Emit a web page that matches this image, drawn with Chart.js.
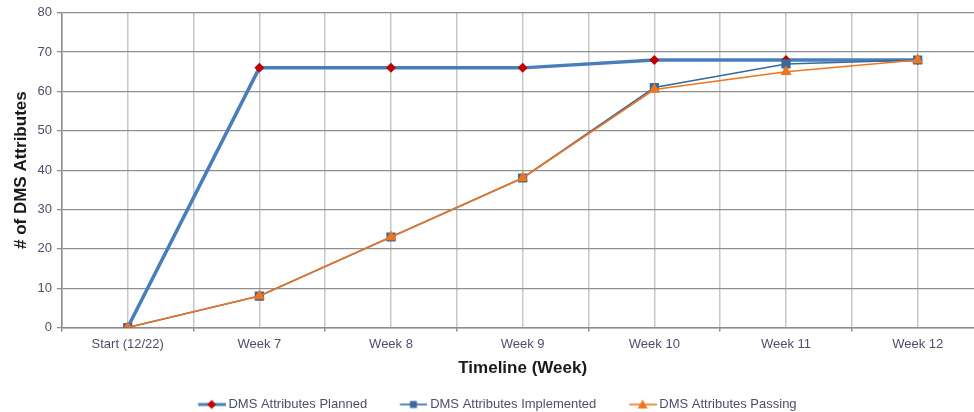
<!DOCTYPE html>
<html>
<head>
<meta charset="utf-8">
<script src="https://cdn.jsdelivr.net/npm/chart.js@4"></script>
<style>
  html, body { margin: 0; padding: 0; background: #fff; overflow: hidden; }
  #wrap { width: 990px; height: 412px; position: relative; }
</style>
</head>
<body>
<div id="wrap"><canvas id="chart"></canvas></div>
<script>
// Timeline categories and weekly attribute counts
const categories = ['Start (12/22)', 'Week 7', 'Week 8', 'Week 9', 'Week 10', 'Week 11', 'Week 12'];
const planned     = [0, 66, 66, 66, 68, 68, 68];
const implemented = [0, 8, 23, 38, 61, 67, 68];
const passing     = [0, 8, 23, 38, 60.5, 65, 68];
const yTicks = { min: 0, max: 80, step: 10 };

const seriesNames = ['DMS Attributes Planned', 'DMS Attributes Implemented', 'DMS Attributes Passing'];

const BLUE = '#4a7ebb';
const DARKBLUE = '#3a679c';
const RED = '#c00000';
const ORANGE = '#ee7623';
const TEXT = '#4e4e6c';
const FONT = 'Liberation Sans, Arial, sans-serif';

const toPoints = arr => arr.map((v, i) => ({ x: i, y: v }));

// Legend swatch: blank lead-in, then a line segment with the series marker in the middle
const LEAD_IN = 33;
function swatch(lineColor, lineWidth, markerColor, shape) {
  const c = document.createElement('canvas');
  c.width = 64; c.height = 12;
  const g = c.getContext('2d');
  const x0 = 36.5, cx = 50;
  g.strokeStyle = lineColor; g.lineWidth = lineWidth;
  g.beginPath(); g.moveTo(x0, 6); g.lineTo(64, 6); g.stroke();
  g.fillStyle = markerColor;
  g.beginPath();
  if (shape === 'diamond') {
    g.moveTo(cx, 1.5); g.lineTo(cx + 4.5, 6); g.lineTo(cx, 10.5); g.lineTo(cx - 4.5, 6);
  } else if (shape === 'square') {
    g.rect(cx - 3.5, 2.5, 7, 7);
  } else {
    g.moveTo(cx, 1); g.lineTo(cx + 5, 10); g.lineTo(cx - 5, 10);
  }
  g.closePath(); g.fill();
  return c;
}

const swatches = [
  swatch(BLUE, 3, RED, 'diamond'),
  swatch(DARKBLUE, 1.6, DARKBLUE, 'square'),
  swatch(ORANGE, 1.6, ORANGE, 'triangle')
];

// Re-centre the legend row on its visible content (the first swatch's lead-in is blank)
const legendOffset = {
  id: 'legendOffset',
  afterLayout(chart) {
    const lg = chart.legend;
    if (lg) { lg.left -= LEAD_IN / 2; lg.right -= LEAD_IN / 2; }
  }
};

new Chart(document.getElementById('chart'), {
  type: 'line',
  plugins: [legendOffset],
  data: {
    datasets: [
      {
        label: seriesNames[0],
        data: toPoints(planned),
        borderColor: BLUE,
        borderWidth: 3.5,
        pointStyle: 'rectRot',
        pointRadius: 5,
        pointBackgroundColor: RED,
        pointBorderColor: RED,
        pointBorderWidth: 0,
        order: 3
      },
      {
        label: seriesNames[1],
        data: toPoints(implemented),
        borderColor: DARKBLUE,
        borderWidth: 1.6,
        pointStyle: 'rect',
        pointRadius: 6.5,
        pointBackgroundColor: DARKBLUE,
        pointBorderColor: DARKBLUE,
        pointBorderWidth: 0,
        order: 2
      },
      {
        label: seriesNames[2],
        data: toPoints(passing),
        borderColor: ORANGE,
        borderWidth: 1.6,
        pointStyle: 'triangle',
        pointRadius: 6.5,
        pointBackgroundColor: ORANGE,
        pointBorderColor: ORANGE,
        pointBorderWidth: 0,
        order: 1
      }
    ]
  },
  options: {
    responsive: true,
    maintainAspectRatio: false,
    animation: false,
    events: [],
    layout: { padding: { left: 11, top: 6, right: 6, bottom: -9 } },
    scales: {
      x: {
        type: 'linear',
        min: -0.5,
        max: categories.length - 0.5,
        border: { color: '#8c8c8c', width: 1.5 },
        grid: {
          color: '#c8c8c8',
          lineWidth: 1.5,
          tickLength: 4,
          tickColor: ctx => Number.isInteger(ctx.tick.value) ? 'rgba(0,0,0,0)' : '#8c8c8c'
        },
        ticks: {
          stepSize: 0.5,
          autoSkip: false,
          maxRotation: 0,
          padding: 5,
          color: TEXT,
          font: { family: FONT, size: 13 },
          callback: v => Number.isInteger(v) ? categories[v] : ''
        },
        title: {
          display: true,
          text: 'Timeline (Week)',
          color: '#1a1a1a',
          font: { family: FONT, size: 17, weight: 'bold' },
          padding: { top: 1.5, bottom: 19 }
        }
      },
      y: {
        min: yTicks.min,
        max: yTicks.max,
        border: { color: '#8c8c8c', width: 1.5 },
        grid: { color: '#8f8f8f', lineWidth: 1.3, tickLength: 5, tickColor: '#8f8f8f' },
        ticks: {
          stepSize: yTicks.step,
          padding: 5,
          color: TEXT,
          font: { family: FONT, size: 13 }
        },
        title: {
          display: true,
          text: '# of DMS Attributes',
          color: '#1a1a1a',
          font: { family: FONT, size: 17, weight: 'bold' },
          padding: { top: 0, bottom: 1 }
        }
      }
    },
    plugins: {
      tooltip: { enabled: false },
      legend: {
        position: 'bottom',
        labels: {
          usePointStyle: true,
          pointStyleWidth: 56.5,
          padding: 0,
          color: TEXT,
          font: { family: FONT, size: 13 },
          generateLabels: chart => chart.data.datasets.map((ds, i) => ({
            text: ds.label,
            pointStyle: swatches[i],
            fillStyle: 'rgba(0,0,0,0)',
            strokeStyle: 'rgba(0,0,0,0)',
            lineWidth: 0,
            hidden: false,
            datasetIndex: i,
            fontColor: TEXT
          }))
        }
      }
    }
  }
});
</script>
</body>
</html>
